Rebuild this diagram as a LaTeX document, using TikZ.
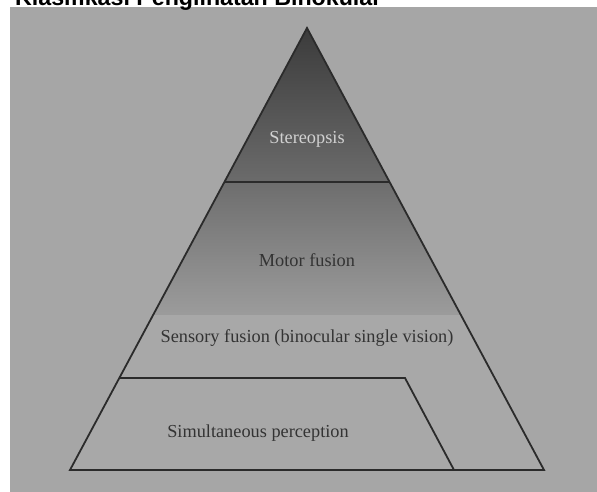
\documentclass[tikz,border=0pt]{standalone}
\usepackage{fontspec}
\setmainfont{Liberation Serif}
\newfontfamily\titlefont{Liberation Sans}
\usetikzlibrary{calc}
\definecolor{photogray}{HTML}{A6A6A6}
\definecolor{linegray}{HTML}{2B2B2B}
\tikzstyle{layer}=[font=\fontsize{18.3}{20}\selectfont, inner sep=0pt, anchor=base]
\tikzstyle{darklabel}=[layer, text=black!80]
\tikzstyle{lightlabel}=[layer, text=black!18]
\tikzstyle{border}=[draw=linegray, line width=1.8pt, line join=miter]
\tikzstyle{heading}=[font=\titlefont\bfseries\fontsize{23.2}{26}\selectfont, anchor=base west, inner sep=0pt]

\begin{document}
\begin{tikzpicture}[x=1pt,y=1pt]
    \useasboundingbox (0,0) rectangle (597,492);
    % First the grey photo and the cut title above it
    \fill[photogray] (10,0) rectangle (597,485);
    \node[heading] (title) at (15,486) {Klasifikasi Penglihatan Binokular};

    % Corners of the pyramid and its layers
    \coordinate (apex) at (307,464);
    \coordinate (bl) at (70,22);
    \coordinate (br) at (544,22);
    \coordinate (sl) at ($(apex)!0.3484!(bl)$);
    \coordinate (sr) at ($(apex)!0.3484!(br)$);
    \coordinate (tl) at ($(apex)!0.7919!(bl)$);
    \coordinate (tr) at (405,114);
    \coordinate (tb) at (454,22);

    % Shade the upper layers
    \begin{scope}
        \clip (apex) -- (bl) -- (br) -- cycle;
        \shade[top color=black!77, bottom color=black!58] (60,310) rectangle (560,466);
        \shade[top color=black!57, bottom color=black!39] (60,177) rectangle (560,310);
        \fill[black!34] (60,20) rectangle (560,177);
    \end{scope}

    % Then the labels
    \foreach \pos/\name/\label in {{(307,348)/stereo/Stereopsis}}
        \node[lightlabel] (\name) at \pos {\label};
    \foreach \pos/\name/\label in {{(307,225)/motor/Motor fusion}, {(307,149)/sensory/Sensory fusion (binocular single vision)}, {(258,54)/simul/Simultaneous perception}}
        \node[darklabel] (\name) at \pos {\label};

    % Outline and layer borders
    \draw[border] (apex) -- (bl) -- (br) -- cycle;
    \draw[border] (sl) -- (sr);
    \draw[border] (tl) -- (tr) -- (tb);
\end{tikzpicture}
\end{document}
